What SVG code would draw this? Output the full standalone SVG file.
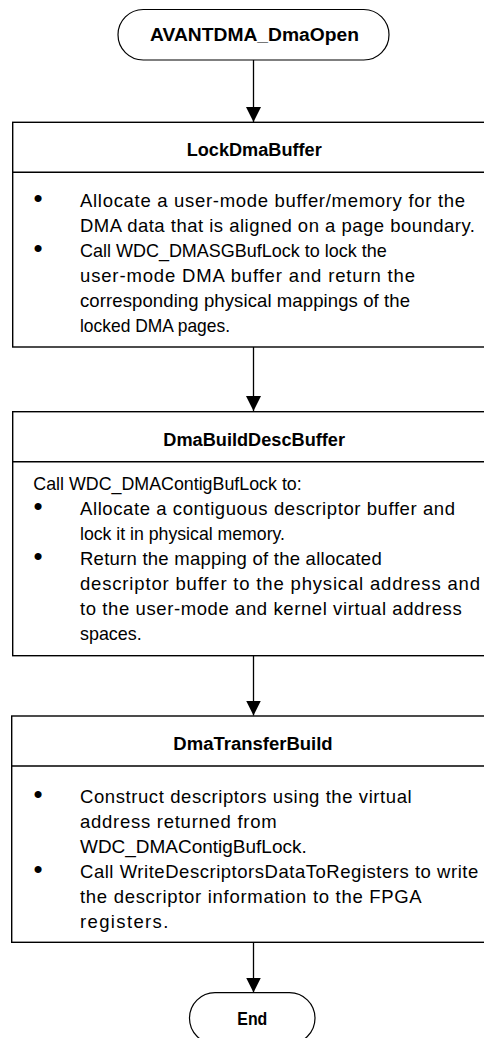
<svg xmlns="http://www.w3.org/2000/svg" width="484" height="1038" viewBox="0 0 484 1038">
<style>
.term{fill:#fff;stroke:#000;stroke-width:1.2}
.box{fill:#fff;stroke:#000;stroke-width:1.4}
.sep{stroke:#000;stroke-width:1.4}
.title{font-family:"Liberation Sans",Arial,sans-serif;font-weight:bold;font-size:18px;fill:#000;text-anchor:middle}
.body{font-family:"Liberation Sans",Arial,sans-serif;font-size:18.5px;fill:#000}
.bul{font-family:"Liberation Sans",Arial,sans-serif;font-size:26px;fill:#000;text-anchor:middle}
.conn{stroke:#000;stroke-width:1.3;fill:none}
</style>
<defs>
<marker id="arr" markerUnits="userSpaceOnUse" markerWidth="16" markerHeight="16" refX="15" refY="7.5" orient="auto">
<path d="M0,0 L15,7.5 L0,15 Z" fill="#000"/>
</marker>
</defs>
<rect width="484" height="1038" fill="#fff"/>
<g id="connectors">
<line class="conn" x1="253.5" y1="60" x2="253.5" y2="122" marker-end="url(#arr)"/>
<line class="conn" x1="253.5" y1="347" x2="253.5" y2="411" marker-end="url(#arr)"/>
<line class="conn" x1="253.5" y1="656" x2="253.5" y2="715.5" marker-end="url(#arr)"/>
<line class="conn" x1="253.5" y1="942.5" x2="253.5" y2="992.5" marker-end="url(#arr)"/>
</g>
<g id="start">
<rect class="term" x="118" y="9.5" width="271" height="50.5" rx="25.25"/>
<text class="title" x="254.5" y="40.5" textLength="209" lengthAdjust="spacingAndGlyphs">AVANTDMA_DmaOpen</text>
</g>
<g id="lockDmaBuffer">
<rect class="box" x="12.7" y="122.3" width="483" height="224.7"/>
<line class="sep" x1="12.7" y1="172.3" x2="495.7" y2="172.3"/>
<text class="title" x="254.2" y="156" textLength="135" lengthAdjust="spacingAndGlyphs">LockDmaBuffer</text>
<text class="bul" x="38" y="207">•</text>
<text class="bul" x="38" y="257">•</text>
<text class="body" x="80" y="207" textLength="385" lengthAdjust="spacing">Allocate a user-mode buffer/memory for the</text>
<text class="body" x="80" y="232" textLength="395" lengthAdjust="spacing">DMA data that is aligned on a page boundary.</text>
<text class="body" x="80" y="257" textLength="306.7" lengthAdjust="spacingAndGlyphs">Call WDC_DMASGBufLock to lock the</text>
<text class="body" x="80" y="282" textLength="335" lengthAdjust="spacing">user-mode DMA buffer and return the</text>
<text class="body" x="80" y="307" textLength="330" lengthAdjust="spacing">corresponding physical mappings of the</text>
<text class="body" x="80" y="332" textLength="150" lengthAdjust="spacingAndGlyphs">locked DMA pages.</text>
</g>
<g id="dmaBuildDescBuffer">
<rect class="box" x="12.7" y="411.7" width="483" height="244"/>
<line class="sep" x1="12.7" y1="461.7" x2="495.7" y2="461.7"/>
<text class="title" x="254.2" y="445.5" textLength="181.7" lengthAdjust="spacingAndGlyphs">DmaBuildDescBuffer</text>
<text class="body" x="33.3" y="490" textLength="268.4" lengthAdjust="spacingAndGlyphs">Call WDC_DMAContigBufLock to:</text>
<text class="bul" x="38" y="515">•</text>
<text class="bul" x="38" y="565">•</text>
<text class="body" x="80" y="515" textLength="375" lengthAdjust="spacing">Allocate a contiguous descriptor buffer and</text>
<text class="body" x="80" y="540" textLength="205" lengthAdjust="spacingAndGlyphs">lock it in physical memory.</text>
<text class="body" x="80" y="565" textLength="301.7" lengthAdjust="spacing">Return the mapping of the allocated</text>
<text class="body" x="80" y="590" textLength="400" lengthAdjust="spacing">descriptor buffer to the physical address and</text>
<text class="body" x="80" y="615" textLength="381.7" lengthAdjust="spacing">to the user-mode and kernel virtual address</text>
<text class="body" x="80" y="640" textLength="61.7" lengthAdjust="spacingAndGlyphs">spaces.</text>
</g>
<g id="dmaTransferBuild">
<rect class="box" x="11.7" y="716" width="484" height="226.3"/>
<line class="sep" x1="11.7" y1="766" x2="495.7" y2="766"/>
<text class="title" x="253" y="750" textLength="159.3" lengthAdjust="spacingAndGlyphs">DmaTransferBuild</text>
<text class="bul" x="38" y="803">•</text>
<text class="bul" x="38" y="878">•</text>
<text class="body" x="80" y="803" textLength="331.7" lengthAdjust="spacing">Construct descriptors using the virtual</text>
<text class="body" x="80" y="828" textLength="196.7" lengthAdjust="spacing">address returned from</text>
<text class="body" x="80" y="853" textLength="226.7" lengthAdjust="spacingAndGlyphs">WDC_DMAContigBufLock.</text>
<text class="body" x="80" y="878" textLength="398.3" lengthAdjust="spacing">Call WriteDescriptorsDataToRegisters to write</text>
<text class="body" x="80" y="903" textLength="341.7" lengthAdjust="spacing">the descriptor information to the FPGA</text>
<text class="body" x="80" y="928" textLength="88.3" lengthAdjust="spacing">registers.</text>
</g>
<g id="end">
<rect class="term" x="189.5" y="992.7" width="125.5" height="51" rx="25.5"/>
<text class="title" x="252.3" y="1025" textLength="30" lengthAdjust="spacingAndGlyphs">End</text>
</g>
</svg>
